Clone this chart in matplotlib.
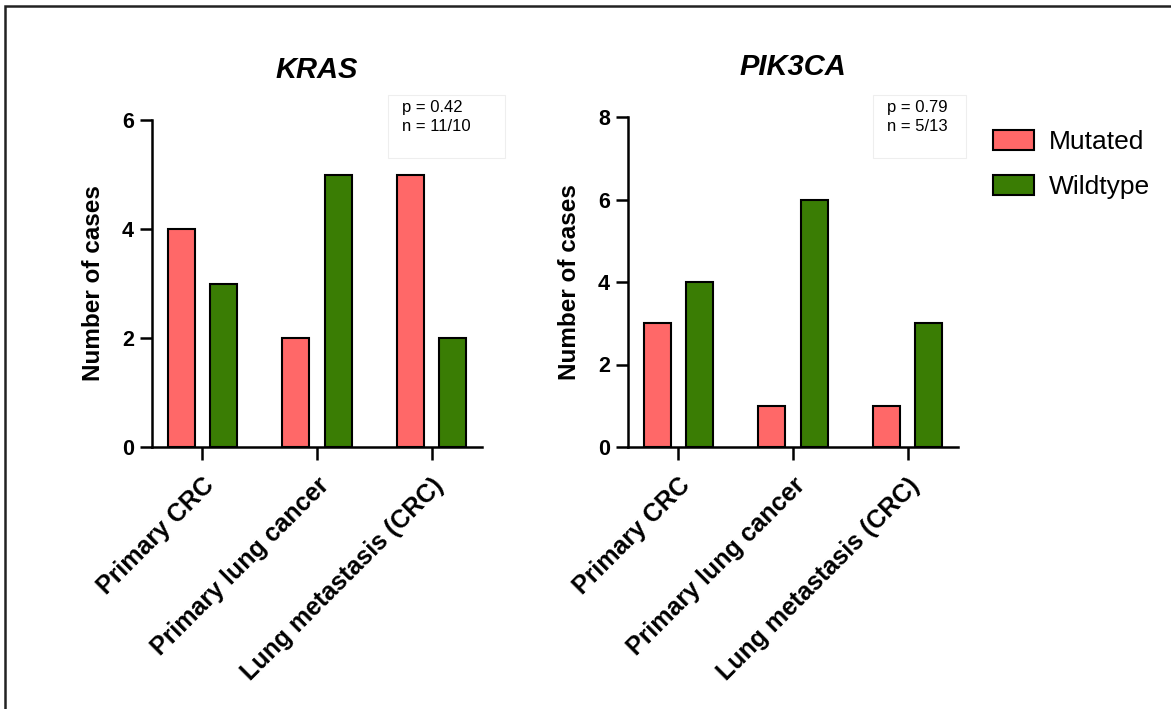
import matplotlib
matplotlib.use('Agg')
import matplotlib.pyplot as plt
from matplotlib.patches import Rectangle
import numpy as np

plt.rcParams['font.family'] = ['Liberation Sans', 'DejaVu Sans']

# ── Data ─────────────────────────────────────────────────────────────────────
categories = ['Primary CRC', 'Primary lung cancer', 'Lung metastasis (CRC)']
kras_mutated = [4, 2, 5]
kras_wildtype = [3, 5, 2]
pik3ca_mutated = [3, 1, 1]
pik3ca_wildtype = [4, 6, 3]
genes = ['KRAS', 'PIK3CA']
stats = ['p = 0.42\nn = 11/10', 'p = 0.79\nn = 5/13']
yticks = [[0, 2, 4, 6], [0, 2, 4, 6, 8]]
series_labels = ['Mutated', 'Wildtype']

# ── Style ────────────────────────────────────────────────────────────────────
RED = '#FF6868'
GREEN = '#3A7D04'
W, H = 1171, 709
BW, OFF = 0.235, 0.185

fig = plt.figure(figsize=(W / 100, H / 100), dpi=100)
fig.patch.set_facecolor('white')

# outer frame (only top/left edges visible in the crop)
fig.add_artist(Rectangle((5.5 / W, -0.05), 1.2, 1.05 - 6.0 / H,
                         transform=fig.transFigure, fill=False,
                         edgecolor='#222222', lw=1.8))

axes_px = [(152, 482, 120), (628, 958, 117)]
boxes_px = [(388, 505), (873, 966)]
data = [(kras_mutated, kras_wildtype), (pik3ca_mutated, pik3ca_wildtype)]
x = np.arange(len(categories))

for i, ((x0, x1, ytop), (mut, wt)) in enumerate(zip(axes_px, data)):
    ax = fig.add_axes([x0 / W, (H - 447) / H, (x1 - x0) / W, (447 - ytop) / H])
    b1 = ax.bar(x - OFF, mut, BW, color=RED, edgecolor='black', lw=1.5,
                label=series_labels[0], zorder=3)
    b2 = ax.bar(x + OFF, wt, BW, color=GREEN, edgecolor='black', lw=1.5,
                label=series_labels[1], zorder=3)
    ax.set_xlim(-0.44, 2.44)
    ax.set_ylim(0, yticks[i][-1])
    ax.set_yticks(yticks[i])
    ax.set_xticks(x)
    ax.set_xticklabels(categories, rotation=45, ha='right', va='top',
                       rotation_mode='anchor', fontsize=18, fontweight='bold')
    for lab in ax.get_yticklabels():
        lab.set_fontsize(15.5)
        lab.set_fontweight('bold')
    ax.tick_params(axis='both', width=1.8, length=9, pad=4)
    ax.tick_params(axis='x', pad=10)
    for s in ('top', 'right'):
        ax.spines[s].set_visible(False)
    for s in ('left', 'bottom'):
        ax.spines[s].set_linewidth(1.8)
    ax.set_ylabel('Number of cases', fontsize=17.5, fontweight='bold', labelpad=12)
    ax.set_title(genes[i], fontsize=21, fontweight='bold', style='italic', pad=30)

    # stats box
    bx0, bx1 = boxes_px[i]
    fig.add_artist(Rectangle((bx0 / W, (H - 158) / H), (bx1 - bx0) / W, 63 / H,
                             transform=fig.transFigure, fill=False,
                             edgecolor='#eeeeee', lw=0.8))
    fig.text((bx0 + 14) / W, (H - 100) / H, stats[i], fontsize=12,
             ha='left', va='top', linespacing=1.3)

fig.legend(handles=[b1, b2], loc='upper left',
           bbox_to_anchor=(993 / W, (H - 130) / H), frameon=False,
           fontsize=19, handlelength=1.55, handleheight=0.77,
           handletextpad=0.55, labelspacing=0.8, borderpad=0, borderaxespad=0)

fig.savefig('out.png', dpi=100, facecolor='white')
